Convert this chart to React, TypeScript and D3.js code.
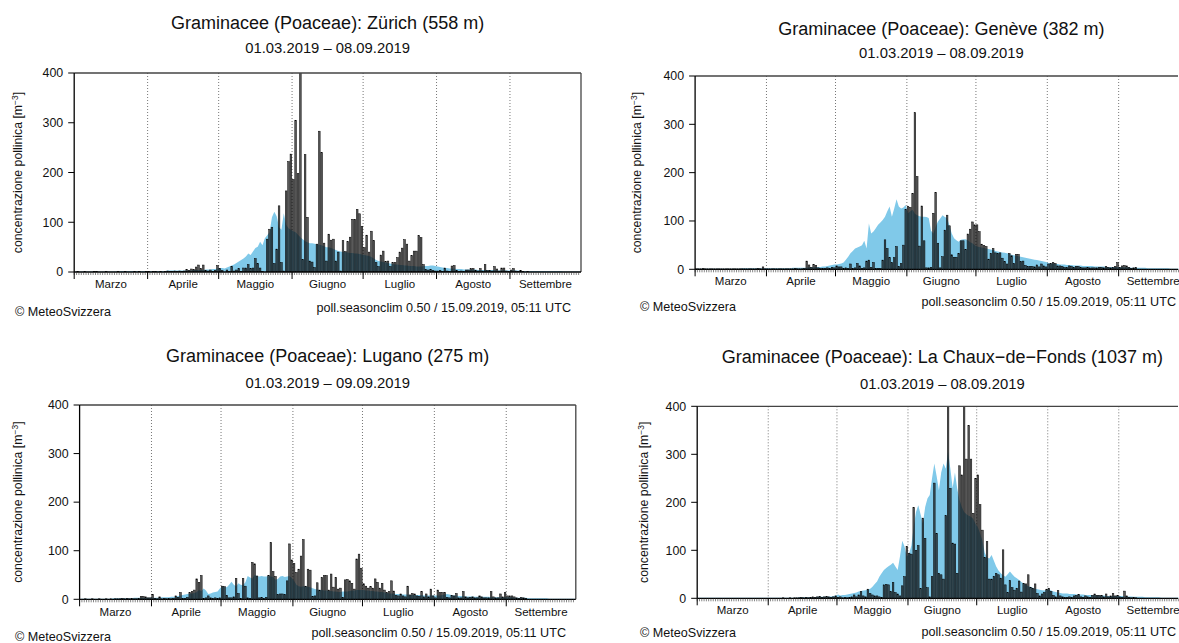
import React from 'react';
import * as d3 from 'd3';

const monthNames = ['Marzo', 'Aprile', 'Maggio', 'Giugno', 'Luglio', 'Agosto', 'Settembre'];
const yTicks = [0, 100, 200, 300, 400];
const seasonStart = new Date(2019, 2, 1);
const seasonEnd = new Date(2019, 9, 1);

// daily observed concentrations from 1 March, and daily climatology (median) values
const zurichObs = [
  0, 1, 0, 0, 1, 0, 0, 0, 1, 1, 0, 0, 0, 1, 0, 0, 0, 0, 1, 0, 0, 1, 0, 0, 0, 1, 0, 1, 0, 0, 1,
  1, 0, 1, 1, 0, 1, 0, 1, 2, 1, 1, 2, 1, 2, 1, 2, 5, 3, 6, 5, 10, 14, 7, 14, 3, 2, 4, 1, 3, 13,
  7, 3, 0, 4, 1, 11, 2, 4, 7, 1, 8, 8, 15, 7, 8, 27, 17, 8, 1, 0, 66, 86, 90, 17, 46, 133, 19, 2, 163, 222, 237,
  186, 305, 198, 420, 25, 236, 110, 22, 20, 9, 56, 283, 240, 58, 22, 76, 64, 66, 22, 40, 2, 63, 41, 61, 70, 106, 106, 126, 117, 92,
  49, 74, 40, 82, 63, 19, 11, 34, 42, 21, 22, 11, 19, 19, 29, 40, 48, 65, 56, 22, 33, 42, 42, 73, 69, 15, 5, 4, 5, 3, 2,
  2, 3, 1, 8, 2, 1, 12, 13, 3, 1, 2, 1, 4, 4, 7, 7, 3, 2, 7, 2, 15, 3, 3, 2, 11, 6, 2, 8, 8, 2, 1,
  4, 7, 2, 1, 3, 1, 0, 1,
];
const zurichClim = [
  1, 1, 1, 1, 1, 1, 1, 1, 1, 1, 1, 1, 1, 1, 1, 1, 1, 1, 1, 2, 2, 2, 2, 2, 2, 2, 2, 2, 2, 2, 2,
  2, 2, 2, 2, 2, 2, 2, 2, 3, 3, 3, 3, 3, 3, 3, 3, 3, 3, 3, 4, 4, 4, 4, 4, 5, 5, 5, 6, 6, 7,
  8, 8, 7, 9, 11, 13, 15, 18, 21, 24, 27, 31, 37, 34, 41, 48, 51, 61, 54, 68, 74, 80, 110, 121, 112, 90, 85, 118, 95, 88, 85,
  82, 80, 75, 70, 66, 62, 60, 58, 58, 57, 56, 55, 54, 52, 50, 50, 48, 46, 44, 42, 41, 40, 40, 39, 38, 38, 37, 37, 36, 35,
  34, 33, 32, 30, 27, 24, 22, 21, 20, 19, 18, 17, 16, 15, 15, 14, 14, 13, 13, 12, 12, 12, 11, 11, 11, 12, 12, 12, 13, 13, 12,
  11, 10, 9, 8, 8, 7, 7, 7, 6, 6, 6, 5, 5, 5, 5, 5, 5, 4, 4, 4, 4, 4, 4, 4, 4, 3, 3, 3, 3, 3, 3,
  3, 3, 3, 3, 2, 2, 2, 2, 2, 2, 2, 2, 2, 2, 2, 2, 2, 2, 2, 2, 2, 2, 1, 1, 1, 1, 1, 1, 1, 1,
];

const geneveObs = [
  1, 1, 1, 2, 1, 1, 1, 1, 1, 1, 1, 1, 1, 1, 1, 1, 1, 1, 1, 1, 1, 1, 1, 1, 1, 1, 1, 2, 1, 5, 1,
  1, 1, 1, 1, 1, 1, 1, 1, 1, 1, 1, 1, 2, 1, 1, 1, 2, 17, 9, 4, 10, 8, 3, 2, 2, 2, 3, 2, 4, 3,
  7, 5, 5, 2, 3, 2, 11, 2, 3, 12, 7, 2, 3, 17, 19, 4, 14, 2, 2, 2, 19, 61, 43, 24, 14, 24, 47, 6, 12, 50, 124,
  130, 128, 157, 324, 192, 48, 131, 59, 3, 3, 4, 116, 159, 54, 3, 26, 81, 112, 90, 30, 25, 25, 33, 59, 59, 41, 73, 83, 98, 92,
  92, 78, 52, 49, 47, 21, 33, 43, 34, 33, 34, 23, 16, 11, 33, 28, 12, 31, 31, 16, 17, 8, 6, 6, 6, 5, 9, 5, 11, 7, 5,
  11, 12, 14, 12, 7, 7, 6, 4, 4, 7, 6, 4, 6, 6, 4, 3, 3, 4, 3, 3, 3, 3, 4, 4, 3, 6, 4, 3, 4, 6, 14,
  4, 7, 8, 7, 4, 2, 3, 4,
];
const geneveClim = [
  1, 1, 1, 1, 1, 1, 1, 1, 1, 1, 1, 1, 1, 1, 1, 1, 1, 1, 1, 1, 2, 2, 2, 2, 2, 2, 2, 2, 2, 2, 2,
  2, 2, 2, 2, 2, 2, 2, 2, 2, 2, 2, 3, 3, 3, 3, 3, 3, 3, 4, 4, 4, 5, 5, 5, 6, 6, 7, 8, 9, 10,
  10, 11, 12, 14, 20, 26, 33, 38, 43, 45, 47, 50, 59, 43, 95, 74, 78, 85, 92, 97, 102, 109, 120, 130, 109, 126, 145, 130, 126, 128, 133,
  116, 120, 123, 115, 112, 110, 109, 109, 108, 106, 80, 74, 88, 99, 105, 112, 108, 106, 90, 74, 64, 60, 57, 61, 62, 62, 60, 56, 54, 50,
  47, 46, 45, 44, 43, 42, 41, 40, 38, 37, 36, 35, 34, 33, 32, 30, 29, 28, 27, 26, 25, 24, 23, 22, 21, 20, 19, 18, 17, 16, 15,
  13, 12, 12, 11, 11, 10, 10, 10, 9, 9, 9, 8, 8, 8, 8, 7, 7, 7, 7, 7, 6, 6, 6, 6, 6, 5, 5, 5, 5, 5, 5,
  4, 4, 4, 4, 4, 3, 3, 3, 3, 3, 3, 3, 2, 2, 2, 2, 2, 2, 2, 2, 2, 2, 1, 1, 1, 1, 1, 1, 1, 1,
];

const luganoObs = [
  0, 0, 1, 0, 0, 1, 0, 0, 1, 0, 0, 1, 0, 1, 0, 1, 1, 1, 2, 1, 2, 1, 2, 1, 1, 2, 6, 6, 5, 3, 3,
  10, 2, 1, 5, 1, 2, 1, 2, 1, 2, 7, 4, 14, 2, 2, 4, 14, 16, 19, 42, 35, 49, 2, 3, 7, 3, 2, 3, 2, 3,
  27, 26, 8, 3, 3, 5, 43, 12, 2, 43, 27, 3, 2, 76, 73, 48, 3, 4, 2, 4, 49, 117, 57, 47, 10, 11, 11, 10, 38, 114, 81,
  74, 55, 62, 89, 123, 27, 62, 60, 6, 7, 34, 19, 45, 49, 49, 19, 52, 25, 45, 21, 23, 4, 40, 41, 38, 33, 21, 83, 93, 64,
  32, 27, 23, 26, 23, 42, 35, 23, 33, 19, 14, 16, 38, 17, 8, 7, 11, 7, 5, 27, 9, 12, 11, 7, 6, 16, 5, 11, 5, 21, 7,
  3, 19, 14, 14, 14, 4, 3, 8, 7, 12, 3, 3, 16, 5, 3, 4, 5, 3, 3, 7, 5, 3, 3, 3, 16, 5, 3, 3, 11, 5, 14,
  7, 7, 7, 5, 3, 2, 4, 3, 2,
];
const luganoClim = [
  1, 1, 1, 1, 1, 1, 1, 1, 1, 1, 1, 1, 1, 1, 2, 2, 2, 2, 2, 2, 2, 2, 2, 3, 3, 3, 3, 3, 3, 3, 3,
  3, 3, 3, 3, 4, 4, 4, 4, 5, 5, 6, 7, 8, 9, 10, 11, 12, 12, 13, 15, 19, 17, 22, 18, 11, 12, 14, 15, 16, 22,
  27, 26, 25, 30, 36, 30, 27, 33, 30, 29, 35, 48, 45, 43, 50, 48, 47, 48, 47, 47, 48, 47, 46, 40, 42, 47, 48, 46, 47, 48, 44,
  38, 30, 27, 26, 27, 27, 26, 25, 23, 21, 20, 19, 19, 18, 18, 17, 17, 16, 16, 15, 15, 16, 16, 16, 17, 18, 18, 19, 19, 19,
  19, 18, 18, 17, 17, 16, 16, 15, 15, 14, 13, 12, 12, 12, 11, 11, 11, 10, 10, 10, 9, 9, 9, 9, 9, 9, 8, 8, 8, 8, 8,
  8, 8, 8, 9, 10, 11, 10, 9, 8, 8, 7, 7, 7, 6, 6, 6, 6, 5, 5, 5, 5, 5, 5, 5, 4, 4, 4, 4, 4, 4, 4,
  4, 4, 4, 3, 3, 3, 3, 3, 3, 2, 2, 2, 2, 2, 2, 2, 2, 2, 1, 1, 1, 1, 1, 1, 1, 1, 1, 1, 1, 1,
];

const chauxObs = [
  0, 0, 0, 0, 0, 0, 0, 0, 0, 0, 0, 0, 0, 0, 0, 0, 0, 0, 0, 0, 0, 0, 0, 0, 0, 0, 0, 0, 0, 0, 0,
  0, 0, 0, 0, 0, 0, 1, 0, 0, 1, 0, 1, 1, 1, 2, 1, 2, 1, 2, 3, 2, 3, 4, 2, 3, 4, 3, 2, 3, 5,
  2, 3, 1, 2, 1, 2, 3, 7, 3, 7, 14, 5, 3, 19, 10, 7, 5, 5, 3, 2, 28, 29, 28, 14, 33, 12, 9, 5, 26, 45, 108,
  94, 92, 189, 100, 110, 20, 167, 125, 22, 3, 45, 240, 135, 52, 49, 40, 172, 420, 229, 115, 113, 52, 276, 257, 420, 290, 360, 290, 177, 250,
  257, 195, 142, 85, 118, 40, 40, 46, 52, 49, 42, 101, 28, 12, 37, 22, 17, 21, 36, 13, 31, 30, 49, 22, 21, 30, 10, 5, 9, 12, 19,
  21, 14, 6, 3, 16, 5, 3, 2, 2, 3, 2, 5, 6, 8, 3, 2, 5, 3, 2, 6, 9, 6, 6, 6, 3, 9, 3, 5, 10, 5, 6,
  3, 2, 15, 5, 2, 1, 2, 1,
];
const chauxClim = [
  1, 1, 1, 1, 1, 1, 1, 1, 1, 1, 1, 1, 1, 1, 1, 1, 1, 1, 1, 1, 1, 1, 1, 1, 1, 1, 1, 1, 1, 1, 1,
  1, 1, 1, 1, 1, 1, 1, 1, 1, 1, 1, 1, 1, 2, 2, 2, 2, 2, 2, 2, 2, 3, 3, 3, 3, 3, 4, 4, 5, 6,
  8, 6, 7, 7, 8, 9, 10, 11, 12, 14, 15, 16, 17, 19, 20, 24, 30, 35, 45, 52, 59, 63, 67, 70, 74, 66, 59, 87, 120, 108, 87,
  94, 110, 150, 180, 194, 175, 156, 190, 208, 215, 250, 281, 255, 225, 262, 281, 270, 306, 270, 230, 262, 228, 205, 190, 180, 175, 172, 170, 165, 155,
  148, 135, 120, 95, 85, 83, 90, 78, 66, 58, 52, 48, 45, 50, 56, 50, 45, 42, 38, 34, 31, 28, 25, 24, 22, 20, 19, 18, 17, 16, 18,
  19, 16, 14, 13, 12, 11, 10, 10, 10, 9, 9, 9, 8, 8, 8, 8, 7, 7, 7, 7, 7, 6, 6, 6, 6, 5, 5, 5, 5, 5, 5,
  5, 5, 4, 4, 4, 4, 3, 3, 3, 3, 3, 2, 2, 2, 2, 2, 2, 2, 1, 1, 1, 1, 1, 1, 1, 1, 1, 1, 1, 1,
];

const panels = [
  {
    id: 'zh', title: 'Graminacee (Poaceae): Zürich (558 m)', sub: '01.03.2019 – 08.09.2019',
    obs: zurichObs, clim: zurichClim,
    left: 74.2, right: 581, top: 73, bottom: 272, titleY: 28.5, subY: 53, monthY: 288,
    ylabX: 22, copyX: 15, copyY: 316, pollX: 571, pollY: 312,
  },
  {
    id: 'ge', title: 'Graminacee (Poaceae): Genève (382 m)', sub: '01.03.2019 – 08.09.2019',
    obs: geneveObs, clim: geneveClim,
    left: 695.1, right: 1187.7, top: 76, bottom: 269.3, titleY: 34.5, subY: 58, monthY: 285,
    ylabX: 641, copyX: 640, copyY: 311, pollX: 1176, pollY: 306,
  },
  {
    id: 'lu', title: 'Graminacee (Poaceae): Lugano (275 m)', sub: '01.03.2019 – 09.09.2019',
    obs: luganoObs, clim: luganoClim,
    left: 79.6, right: 575.8, top: 405, bottom: 599.3, titleY: 361.5, subY: 387.5, monthY: 616,
    ylabX: 22, copyX: 15, copyY: 641, pollX: 566, pollY: 637,
  },
  {
    id: 'cf', title: 'Graminacee (Poaceae): La Chaux\u2212de\u2212Fonds (1037 m)', sub: '01.03.2019 – 08.09.2019',
    obs: chauxObs, clim: chauxClim,
    left: 697.2, right: 1187.5, top: 406.3, bottom: 598.3, titleY: 363, subY: 388.5, monthY: 614,
    ylabX: 648, copyX: 640, copyY: 637, pollX: 1176, pollY: 636,
  },
];

const font = '"Liberation Sans", Arial, Helvetica, sans-serif';

function Panel({ p }: { p: typeof panels[number] }) {
  const x = d3.scaleTime().domain([seasonStart, seasonEnd]).range([p.left, p.right]);
  const y = d3.scaleLinear().domain([0, 400]).range([p.bottom, p.top]);
  const day = (i: number) => d3.timeDay.offset(seasonStart, i);
  const dayW = x(day(1)) - x(seasonStart);
  const days = d3.timeDay.range(seasonStart, seasonEnd);
  const months = d3.timeMonth.range(seasonStart, seasonEnd);
  const frameRight = Math.min(p.right, 1178);

  const area = d3.area<number>()
    .x((_, i) => x(day(i)) + dayW / 2)
    .y0(y(0))
    .y1(d => y(d))
    .curve(d3.curveLinear);

  const cx = (p.left + p.right) / 2;
  const clipId = 'clip-' + p.id;

  return (
    <g>
      <defs>
        <clipPath id={clipId}>
          <rect x={p.left} y={p.top} width={p.right - p.left} height={p.bottom - p.top} />
        </clipPath>
      </defs>
      <text x={cx} y={p.titleY} textAnchor="middle" fontSize={18} fill="#111">{p.title}</text>
      <text x={cx} y={p.subY} textAnchor="middle" fontSize={14.8} fill="#111">{p.sub}</text>

      {/* month separators */}
      {months.slice(1).map(m => (
        <line key={'sep' + +m} x1={x(m)} x2={x(m)} y1={p.top} y2={p.bottom}
          stroke="#777" strokeWidth={1} strokeDasharray="1,2" />
      ))}

      <g clipPath={`url(#${clipId})`}>
        <path d={area(p.clim) || ''} fill="#80c9e9" />
        {p.obs.map((v, i) => (
          <rect key={i} x={x(day(i)) + dayW * 0.15} width={dayW * 0.7}
            y={y(v)} height={Math.max(0, y(0) - y(v))}
            fill="#1a1a1a" fillOpacity={0.72} stroke="#000" strokeWidth={0.5} />
        ))}
      </g>

      {/* frame */}
      <line x1={p.left} x2={frameRight} y1={p.top} y2={p.top} stroke="#444" strokeWidth={1.3} />
      {p.right < 1178 && (
        <line x1={p.right} x2={p.right} y1={p.top} y2={p.bottom} stroke="#444" strokeWidth={1.3} />
      )}
      <line x1={p.left} x2={p.left} y1={p.top} y2={p.bottom} stroke="#000" strokeWidth={1.3} />
      <line x1={p.left} x2={frameRight} y1={p.bottom} y2={p.bottom} stroke="#000" strokeWidth={1.3} />

      {/* daily ticks */}
      {days.map(dd => (
        <line key={'d' + +dd} x1={x(dd)} x2={x(dd)} y1={p.bottom} y2={p.bottom + 3}
          stroke="#333" strokeWidth={0.6} />
      ))}
      {months.map(m => (
        <line key={'m' + +m} x1={x(m)} x2={x(m)} y1={p.bottom} y2={p.bottom + 7}
          stroke="#000" strokeWidth={1} />
      ))}
      {months.map((m, i) => {
        const next = d3.timeMonth.offset(m, 1);
        return (
          <text key={'ml' + i} x={(x(m) + x(next)) / 2} y={p.monthY} textAnchor="middle"
            fontSize={11.5} fill="#111">{monthNames[i]}</text>
        );
      })}

      {/* y axis */}
      {yTicks.map(t => (
        <g key={'y' + t}>
          <line x1={p.left - 6} x2={p.left} y1={y(t)} y2={y(t)} stroke="#000" strokeWidth={1} />
          <text x={p.left - 11} y={y(t)} dy="0.35em" textAnchor="end" fontSize={12.4} fill="#111">{t}</text>
        </g>
      ))}
      <text transform={`translate(${p.ylabX},${(p.top + p.bottom) / 2}) rotate(-90)`}
        textAnchor="middle" fontSize={12.3} fill="#111">
        concentrazione pollinica [m<tspan dy={-4} fontSize={8.5}>−3</tspan><tspan dy={4}>]</tspan>
      </text>

      <text x={p.copyX} y={p.copyY} fontSize={12.6} fill="#111">© MeteoSvizzera</text>
      <text x={p.pollX} y={p.pollY} textAnchor="end" fontSize={12.6} fill="#111">
        poll.seasonclim 0.50 / 15.09.2019, 05:11 UTC
      </text>
    </g>
  );
}

export default function App() {
  return (
    <svg width={1179} height={643} style={{ position: 'absolute', left: 0, top: 0, background: '#fff' }}
      fontFamily={font}>
      <rect width={1179} height={643} fill="#fff" />
      {panels.map(p => <Panel key={p.id} p={p} />)}
    </svg>
  );
}
